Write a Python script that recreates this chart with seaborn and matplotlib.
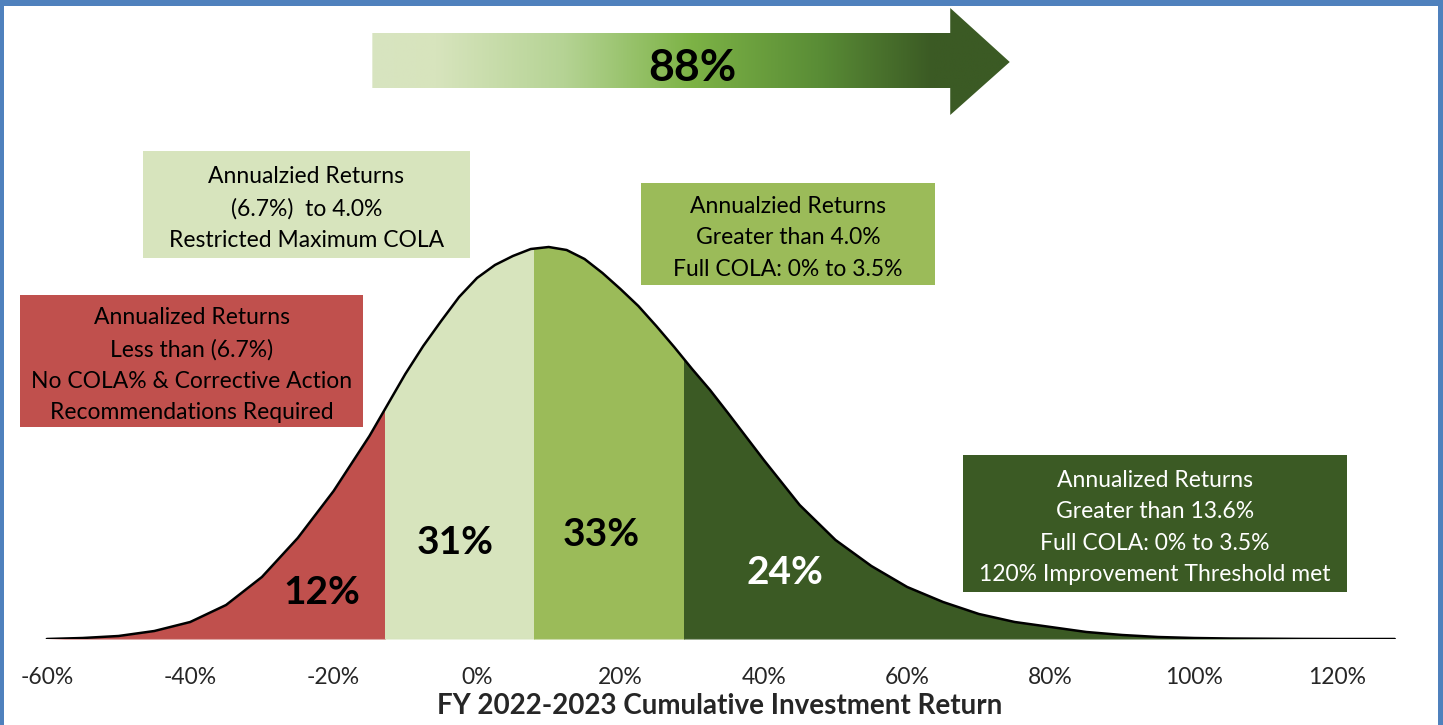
import matplotlib
matplotlib.use("Agg")
import matplotlib.pyplot as plt
import numpy as np
import seaborn as sns
from matplotlib.patches import Rectangle, Polygon
from matplotlib.colors import LinearSegmentedColormap

# distribution curve (density in arbitrary units)
returns = [-60, -55, -50, -45, -40, -35, -30, -25, -20, -15, -12.5, -10, -7.5, -5, -2.5,
           0, 2.5, 5, 7.5, 10, 12.5, 15, 17.5, 20, 22.5, 25, 27.5, 30, 32.5, 35,
           40, 45, 50, 55, 60, 65, 70, 75, 80, 85, 90, 95, 100, 105, 110, 115, 120, 125, 128]
density = [0, 1, 3, 8, 17, 34, 62, 101, 148, 203, 234, 265, 293, 318, 342,
           361, 374, 383, 390, 392, 389, 380, 366, 350, 333, 313, 292, 270, 249, 226,
           179, 134, 99, 73, 52, 37, 25, 17, 12, 7, 4, 2, 1, 0.5, 0.3, 0.1, 0, 0, 0]

# region cut points and their probabilities
cuts = [-60, -12.8, 7.9, 28.8, 128]
region_pct = [12, 31, 33, 24]
region_colors = ["#c0504d", "#d7e4bd", "#9bbb59", "#3b5a24"]
cumulative_pct = 88

xticks = [-60, -40, -20, 0, 20, 40, 60, 80, 100, 120]
xlabel = "FY 2022-2023 Cumulative Investment Return"

box_texts = [
    "Annualized Returns\nLess than (6.7%)\nNo COLA% & Corrective Action\nRecommendations Required",
    "Annualzied Returns\n(6.7%)  to 4.0%\nRestricted Maximum COLA",
    "Annualzied Returns\nGreater than 4.0%\nFull COLA: 0% to 3.5%",
    "Annualized Returns\nGreater than 13.6%\nFull COLA: 0% to 3.5%\n120% Improvement Threshold met",
]

sns.set_style("white")
plt.rcParams['font.family'] = ['Lato', 'DejaVu Sans']

fig = plt.figure(figsize=(14.43, 7.25), dpi=100)
ax = fig.add_axes([20 / 1443, 86 / 725, 1400 / 1443, 639 / 725])

# coloured regions under the curve, each clipped to its band
for lo, hi, col in zip(cuts[:-1], cuts[1:], region_colors):
    pc = ax.fill_between(returns, 0, density, color=col, lw=0, zorder=1)
    clip = Rectangle((lo, -5), hi - lo, 700, transform=ax.transData)
    pc.set_clip_path(clip)

ax.hlines(-1, -60, 128, color="#d0d0d0", lw=1.5, zorder=2)
sns.lineplot(x=returns, y=density, color="black", lw=1.8, ax=ax, zorder=3)

# region percentages
label_pos = [(-21.6, 47), (-3.1, 96), (17.3, 104), (43, 67)]
label_col = ["black", "black", "black", "white"]
for (lx, ly), v, c in zip(label_pos, region_pct, label_col):
    ax.text(lx, ly, f"{v}%", ha="center", va="center", fontsize=28,
            fontweight="bold", color=c, zorder=4)

# annotation boxes
boxes = [(-63.7, 212, 47.8, 132), (-46.6, 381, 45.6, 107),
         (22.9, 354, 41.0, 102), (67.8, 47, 53.5, 137)]
box_text_col = ["black", "black", "black", "white"]
for (bx, by, bw, bh), txt, fc, tc in zip(boxes, box_texts, region_colors, box_text_col):
    ax.add_patch(Rectangle((bx, by), bw, bh, facecolor=fc, edgecolor="none", zorder=4))
    ax.text(bx + bw / 2, by + bh / 2 - 4, txt, ha="center", va="center", fontsize=16.5,
            color=tc, linespacing=1.62, zorder=5)

# gradient arrow with the cumulative share
arrow = Polygon([(-14.6, 551), (66.0, 551), (66.0, 524), (74.3, 577),
                 (66.0, 631), (66.0, 606), (-14.6, 606)], closed=True,
                transform=ax.transData, facecolor="none", edgecolor="none")
ax.add_patch(arrow)
grad_cmap = LinearSegmentedColormap.from_list(
    "arrow", [(0, "#d8e4c0"), (0.1, "#d7e4bd"), (0.3, "#b5d394"),
              (0.5, "#7db346"), (0.7, "#5a8d36"), (0.88, "#3b5a24"), (1, "#3b5a24")])
im = ax.imshow(np.linspace(0, 1, 256).reshape(1, -1), cmap=grad_cmap, aspect="auto",
               extent=(-14.6, 74.3, 524, 631), zorder=4, interpolation="bilinear")
im.set_clip_path(arrow)
ax.text(30.1, 571, f"{cumulative_pct}%", ha="center", va="center", fontsize=32,
        fontweight="bold", color="black", zorder=5)
ax.set_xlim(-63.74, 131.52)
ax.set_ylim(0, 639)

ax.set_xticks(xticks)
ax.set_xticklabels([f"{t}%" for t in xticks], fontsize=16.5)
ax.set_yticks([])
ax.tick_params(axis="x", length=0, pad=20)
ax.set_xlabel(xlabel, fontsize=20, fontweight="bold", labelpad=4)
for s in ax.spines.values():
    s.set_visible(False)

# blue frame around the chart
border = "#4f81bd"
fig.add_artist(Rectangle((0, 719 / 725), 1, 6 / 725, transform=fig.transFigure,
                         facecolor=border, edgecolor="none"))
fig.add_artist(Rectangle((0, 0), 4 / 1443, 1, transform=fig.transFigure,
                         facecolor=border, edgecolor="none"))
fig.add_artist(Rectangle((1438 / 1443, 0), 5 / 1443, 1, transform=fig.transFigure,
                         facecolor=border, edgecolor="none"))

fig.savefig("out.png", dpi=100)
